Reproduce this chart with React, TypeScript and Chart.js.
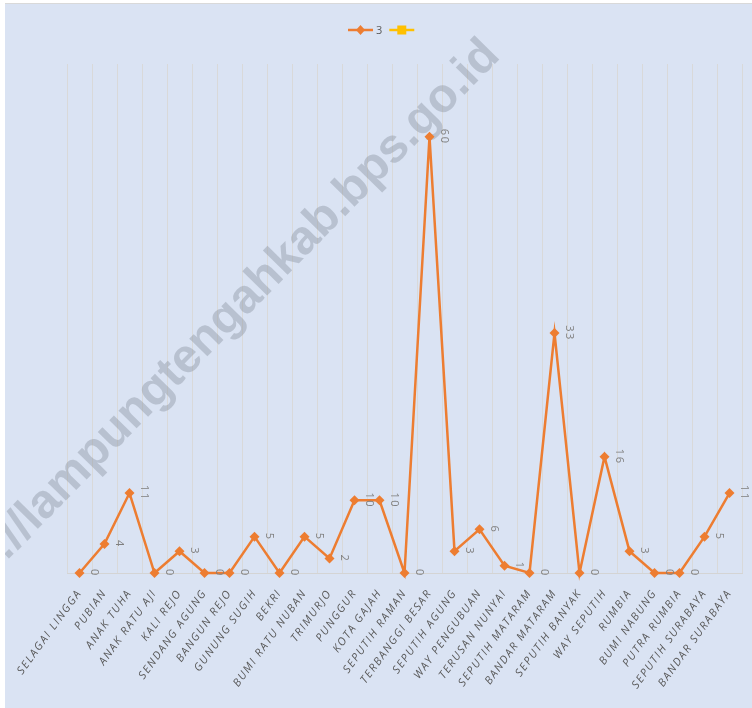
import React, { useEffect, useRef } from "react";
import { Chart, registerables } from "chart.js";

Chart.register(...registerables);

const categories = [
  "SELAGAI LINGGA", "PUBIAN", "ANAK TUHA", "ANAK RATU AJI", "KALI REJO",
  "SENDANG AGUNG", "BANGUN REJO", "GUNUNG SUGIH", "BEKRI", "BUMI RATU NUBAN",
  "TRIMURJO", "PUNGGUR", "KOTA GAJAH", "SEPUTIH RAMAN", "TERBANGGI BESAR",
  "SEPUTIH AGUNG", "WAY PENGUBUAN", "TERUSAN NUNYAI", "SEPUTIH MATARAM",
  "BANDAR MATARAM", "SEPUTIH BANYAK", "WAY SEPUTIH", "RUMBIA", "BUMI NABUNG",
  "PUTRA RUMBIA", "SEPUTIH SURABAYA", "BANDAR SURABAYA",
];

const series3 = [0, 4, 11, 0, 3, 0, 0, 5, 0, 5, 2, 10, 10, 0, 60, 3, 6, 1, 0, 33, 0, 16, 3, 0, 0, 5, 11];
const seriesBlank: (number | null)[] = [];

const legendLabels = ["3", ""];
const colors = ["#ed7d31", "#ffc000"];
const watermarkText = "https://lampungtengahkab.bps.go.id";

const W = 747;
const H = 704;
const FONT = "'Open Sans', 'Noto Sans', sans-serif";

const spacingPlugin = {
  id: "spacing",
  beforeLayout(chart: any) {
    chart.ctx.letterSpacing = "1.6px";
  },
  beforeDraw(chart: any) {
    chart.ctx.letterSpacing = "1.6px";
  },
};

const bgPlugin = {
  id: "bg",
  beforeDraw(chart: any) {
    const ctx = chart.ctx;
    ctx.save();
    ctx.fillStyle = "#dae3f3";
    ctx.fillRect(0, 0, chart.width, chart.height);
    ctx.restore();
  },
  beforeDatasetsDraw(chart: any) {
    const ctx = chart.ctx;
    ctx.save();
    ctx.letterSpacing = "0px";
    const fam = "'Liberation Sans', Arial, sans-serif";
    ctx.font = `bold 46px ${fam}`;
    const tail = "lampungtengahkab.bps.go.id";
    const w = ctx.measureText(tail).width;
    const size = 46 * 665 / w;
    ctx.font = `bold ${size}px ${fam}`;
    ctx.translate(487, 44);
    ctx.rotate(-45.5 * Math.PI / 180);
    ctx.textAlign = "right";
    ctx.textBaseline = "middle";
    ctx.fillStyle = "rgba(120,128,140,0.34)";
    ctx.fillText(watermarkText, 0, 0);
    ctx.restore();
  },
};

const dataLabelPlugin = {
  id: "dlabels",
  afterDatasetsDraw(chart: any) {
    const ctx = chart.ctx;
    const meta = chart.getDatasetMeta(0);
    const data = chart.data.datasets[0].data;
    ctx.save();
    ctx.font = `11px ${FONT}`;
    ctx.fillStyle = "#7f7f7f";
    ctx.textAlign = "center";
    ctx.textBaseline = "middle";
    meta.data.forEach((pt: any, i: number) => {
      ctx.save();
      ctx.translate(pt.x + 15, pt.y);
      ctx.rotate(Math.PI / 2);
      ctx.fillText(String(data[i]), 0, 0);
      ctx.restore();
    });
    ctx.restore();
  },
};

const legendPlugin = {
  id: "customLegend",
  afterDraw(chart: any) {
    const ctx = chart.ctx;
    ctx.save();
    ctx.letterSpacing = "0px";
    ctx.font = `11px ${FONT}`;
    ctx.textBaseline = "middle";
    ctx.textAlign = "left";
    const y = 26;
    let x = 343;
    legendLabels.forEach((lab, i) => {
      const c = colors[i];
      ctx.strokeStyle = c;
      ctx.lineWidth = 2.5;
      ctx.beginPath();
      ctx.moveTo(x, y);
      ctx.lineTo(x + 25, y);
      ctx.stroke();
      ctx.fillStyle = c;
      const cx = x + 12.5;
      if (i === 0) {
        ctx.beginPath();
        ctx.moveTo(cx, y - 5);
        ctx.lineTo(cx + 4.5, y);
        ctx.lineTo(cx, y + 5);
        ctx.lineTo(cx - 4.5, y);
        ctx.closePath();
        ctx.fill();
      } else {
        ctx.fillRect(cx - 4.5, y - 4.5, 9, 9);
      }
      x += 28;
      ctx.fillStyle = "#595959";
      ctx.fillText(lab, x, y + 1);
      const tw = lab ? ctx.measureText(lab).width : 0;
      x += tw + 7;
    });
    ctx.restore();
  },
};

export default function App() {
  const ref = useRef<HTMLCanvasElement | null>(null);

  useEffect(() => {
    if (!ref.current) return;
    const chart = new Chart(ref.current, {
      type: "line",
      data: {
        labels: categories,
        datasets: [
          {
            label: legendLabels[0],
            data: series3,
            borderColor: colors[0],
            backgroundColor: colors[0],
            borderWidth: 2.5,
            pointStyle: "rectRot",
            pointRadius: 5,
            pointHoverRadius: 5,
            pointBorderWidth: 0,
            tension: 0,
            clip: false as any,
          },
          {
            label: legendLabels[1],
            data: seriesBlank,
            borderColor: colors[1],
            backgroundColor: colors[1],
            borderWidth: 2.5,
            pointStyle: "rect",
            pointRadius: 4.5,
          },
        ],
      },
      options: {
        responsive: false,
        animation: false,
        layout: { padding: { top: 60, left: 62, right: 10, bottom: 0 } },
        plugins: {
          legend: { display: false },
          tooltip: { enabled: false },
        },
        scales: {
          x: {
            offset: true,
            grid: { color: "#d9d9d9", drawTicks: false, offset: true },
            border: { color: "#d4d4d4" },
            ticks: {
              autoSkip: false,
              minRotation: 54,
              maxRotation: 54,
              color: "#595959",
              font: { size: 11, family: FONT, style: "italic" },
              padding: 14,
            },
            afterFit: (s: any) => {
              s.height = 135;
              s.paddingLeft = 0;
              s.paddingRight = 0;
            },
          },
          y: {
            display: false,
            min: 0,
            max: 70,
          },
        },
      },
      plugins: [spacingPlugin, bgPlugin, dataLabelPlugin, legendPlugin],
    });
    return () => chart.destroy();
  }, []);

  return (
    <div style={{ position: "fixed", left: 0, top: 0, width: 752, height: 708, background: "#ffffff", overflow: "hidden" }}>
      <div style={{ position: "absolute", left: 5, top: 3, width: W, height: H + 1, borderTop: "1px solid #d9d9d9" }}>
        <canvas ref={ref} width={W} height={H} style={{ display: "block", width: W, height: H }} />
      </div>
    </div>
  );
}
